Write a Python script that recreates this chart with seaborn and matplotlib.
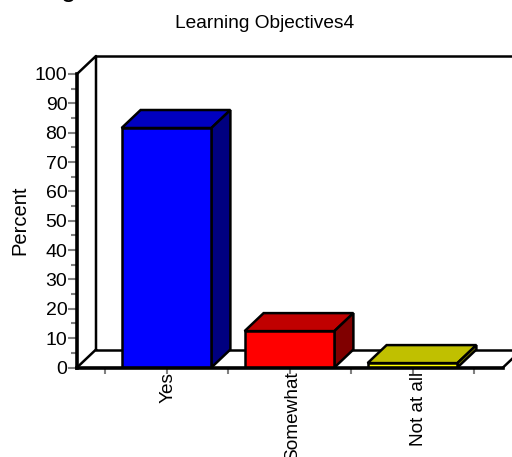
import matplotlib
matplotlib.use("Agg")
import matplotlib.pyplot as plt
import matplotlib.transforms as mtrans
import seaborn as sns
import pandas as pd
from matplotlib.patches import Polygon
from matplotlib.ticker import MultipleLocator

categories = ["Yes", "Somewhat", "Not at all"]
percent = [81.6, 12.4, 1.5]
front_colors = ["#0000ff", "#ff0000", "#ffff00"]
top_colors = ["#0000c0", "#c00000", "#c0c000"]
side_colors = ["#000080", "#800000", "#808000"]
y_ticks = list(range(0, 101, 10))
title_text = "Learning Objectives4"
y_label = "Percent"
cut_text = "g"

W, H = 512, 457
LW = 1.8
sns.set_theme(style="white")
plt.rcParams["font.family"] = ["Liberation Sans", "DejaVu Sans"]
fig = plt.figure(figsize=(W / 100, H / 100), dpi=100)
L, R, B, T = 77, 503, 367.5, 74
ax = fig.add_axes([L / W, 1 - B / H, (R - L) / W, (B - T) / H])
df = pd.DataFrame({"c": categories, "p": percent})
sns.barplot(data=df, x="c", y="p", hue="c", palette=front_colors, legend=False,
            width=0.73, ax=ax, saturation=1, edgecolor="black", linewidth=LW,
            zorder=5)
ax.set_xlim((L - 166.5) / 123, (R - 166.5) / 123)
ax.set_ylim(0, 100)
for s in ax.spines.values():
    s.set_visible(False)

# pixel depth of the 3-D look, expressed in data units
xpp = (ax.get_xlim()[1] - ax.get_xlim()[0]) / (R - L)
ypp = 100 / (B - T)
dx, dy = 19 * xpp, 18 * ypp
x0, x1 = ax.get_xlim()

def poly(pts, fc, z):
    ax.add_patch(Polygon(pts, closed=True, fc=fc, ec="black", lw=LW, zorder=z,
                         joinstyle="miter", clip_on=False))

def line(xs, ys, lw=LW, z=2):
    ax.plot(xs, ys, color="black", lw=lw, zorder=z, clip_on=False,
            solid_capstyle="projecting")

# walls and floor
line([x0, x0 + dx, x0 + dx], [100, 100 + dy, dy])
line([x0 + dx, x1 + 3 * dx], [100 + dy, 100 + dy])
line([x0, x0 + dx], [0, dy])
line([x0 + dx, x1 + dx], [dy, dy])
line([x1, x1 + dx], [0, dy])
line([x0, x0], [0, 100], lw=2.6, z=6)
line([x0, x1], [0, 0], lw=2.6, z=6)

# bar depth faces
for bar, tc, sc in zip(ax.patches, top_colors, side_colors):
    a, w, h = bar.get_x(), bar.get_width(), bar.get_height()
    b = a + w
    poly([(a, h), (a + dx, h + dy), (b + dx, h + dy), (b, h)], tc, 4)
    poly([(b, 0), (b, h), (b + dx, h + dy), (b + dx, dy)], sc, 4)

# ticks
ax.set_yticks(y_ticks)
ax.yaxis.set_minor_locator(MultipleLocator(5))
ax.tick_params(axis="y", which="major", left=True, length=6.5, width=1.5,
               color="#808080", labelsize=14, pad=0.5, labelcolor="black")
ax.tick_params(axis="y", which="minor", left=True, length=4, width=1.5,
               color="#808080")
ax.xaxis.set_minor_locator(MultipleLocator(1, offset=0.5))
ax.tick_params(axis="x", which="major", bottom=True, length=4, width=1.5,
               color="#808080", labelsize=13.7, pad=-1, labelcolor="black")
ax.tick_params(axis="x", which="minor", bottom=True, length=4, width=1.5,
               color="#808080")
plt.setp(ax.get_xticklabels(), rotation=90, va="top", ha="center")
for lab, shift in zip(ax.get_xticklabels(), [2, 3, 6]):
    lab.set_transform(lab.get_transform() +
                      mtrans.ScaledTranslation(shift / 100, 0, fig.dpi_scale_trans))
ax.set_xlabel("")
ax.set_ylabel("")
fig.text(20 / W, 1 - 220 / H, y_label, rotation=90, ha="center", va="center",
         fontsize=14.5, color="black")
fig.text(265 / W, 1 - 24 / H, title_text, ha="center", va="center",
         fontsize=13.8, color="black")
fig.text(69 / W, 1 + 4 / H, cut_text, ha="center", va="baseline",
         fontsize=20, color="black")
fig.savefig("out.png", dpi=100)
